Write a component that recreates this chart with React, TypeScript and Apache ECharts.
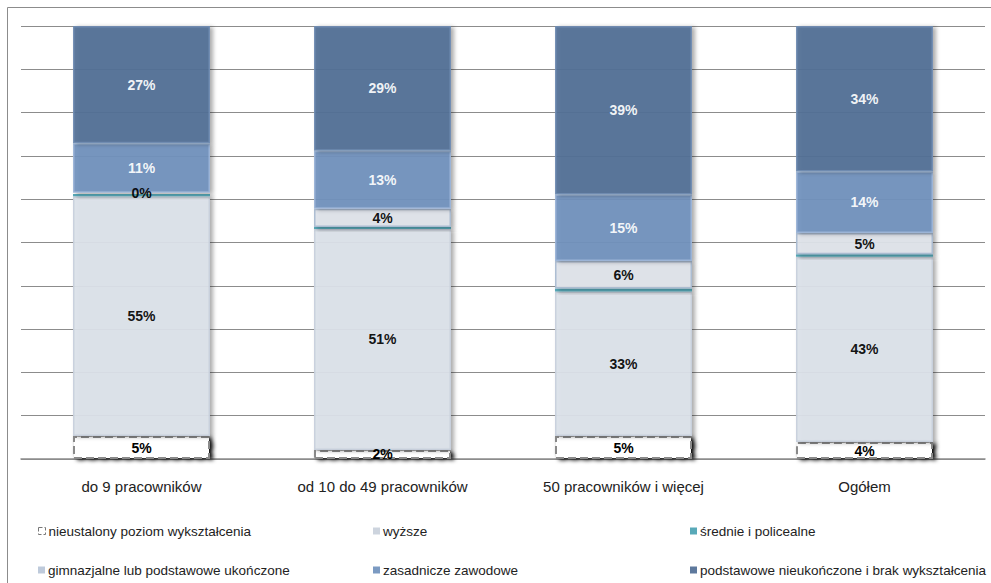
import React, { useEffect, useRef } from "react";
import * as echarts from "echarts";

const categories = ["do 9 pracowników", "od 10 do 49 pracowników", "50 pracowników i więcej", "Ogółem"];
const seriesNames = [
  "nieustalony poziom wykształcenia",
  "wyższe",
  "średnie i policealne",
  "gimnazjalne lub podstawowe ukończone",
  "zasadnicze zawodowe",
  "podstawowe nieukończone i brak wykształcenia",
];
const nieustalony = [5.3, 2.1, 5.3, 3.9];
const wyzsze = [55.4, 51.0, 33.4, 42.8];
const srednie = [0.5, 0.5, 0.7, 0.6];
const gimnazjalne = [0.3, 4.2, 6.3, 4.9];
const zasadnicze = [11.4, 13.4, 15.4, 14.2];
const podstawowe = [27.1, 28.8, 38.9, 33.6];
const yTicks = [0, 10, 20, 30, 40, 50, 60, 70, 80, 90, 100];

const FONT = "'Liberation Sans', 'Open Sans', sans-serif";

export default function App() {
  const ref = useRef<HTMLDivElement>(null);
  useEffect(() => {
    if (!ref.current) return;
    const chart = echarts.init(ref.current, null, { renderer: "svg" });
    const values = [nieustalony, wyzsze, srednie, gimnazjalne, zasadnicze, podstawowe];
    const colors = ["#ffffff", "#dbe2ea", "#4ba3b3", "#dfe3ea", "#7192bd", "#526f96"];
    const labelColors = ["#000", "#000", "#000", "#000", "#fff", "#fff"];
    const borders = ["#8a8a8a", "#c7d0dc", "#4ba3b3", "#a9bad0", "#9bb4d6", "#6f8cb2"];
    const series = values.map((v, i) => ({
      name: seriesNames[i],
      type: "bar",
      stack: "total",
      barWidth: 137,
      data: v,
      itemStyle: {
        color: colors[i],
        opacity: i === 0 ? 1 : 0.93,
        borderColor: borders[i],
        borderWidth: i === 0 ? 2 : i === 2 ? 0 : 1.5,
        borderType: i === 0 ? "dashed" : "solid",
        shadowColor: i === 0 ? "transparent" : "rgba(0,0,0,0.35)",
        shadowBlur: 4,
        shadowOffsetX: 3,
        shadowOffsetY: 1,
      },
      label: {
        show: i !== 2,
        position: "inside",
        formatter: (p: any) => Math.round(p.value) + "%",
        color: labelColors[i],
        fontFamily: FONT,
        fontWeight: "bold",
        fontSize: 14,
      },
    }));
    const legendPos = [
      { left: 33, top: 519 },
      { left: 368, top: 519 },
      { left: 685, top: 519 },
      { left: 33, top: 558 },
      { left: 368, top: 558 },
      { left: 685, top: 558 },
    ];
    const legend = seriesNames.map((n, i) => ({
      data: [{ name: n, icon: "rect" }],
      left: legendPos[i].left,
      top: legendPos[i].top,
      itemWidth: 7,
      itemHeight: 7,
      itemGap: 4,
      selectedMode: false,
      textStyle: { fontFamily: FONT, fontSize: 13.5, color: "#222", padding: [0, 0, 0, -2] },
      itemStyle:
        i === 0
          ? { color: "#fff", borderColor: "#777", borderWidth: 1, borderType: "dashed" }
          : { color: i === 1 ? "#c9d1dc" : i === 3 ? "#b9c6d8" : colors[i], borderWidth: 0 },
    }));
    chart.setOption({
      animation: false,
      backgroundColor: "#fff",
      grid: { left: 21, right: 6, top: 26, bottom: 124, containLabel: false },
      legend,
      xAxis: {
        type: "category",
        data: categories,
        axisLine: { lineStyle: { color: "#8c8c8c", width: 1.5 } },
        axisTick: { show: false },
        axisLabel: { color: "#222", fontFamily: FONT, fontSize: 15, margin: 20 },
      },
      yAxis: {
        type: "value",
        min: yTicks[0],
        max: yTicks[yTicks.length - 1],
        interval: 10,
        axisLabel: { show: false },
        axisLine: { show: false },
        axisTick: { show: false },
        splitLine: { lineStyle: { color: "#8c8c8c", width: 1 } },
      },
      graphic: [
        {
          type: "rect",
          shape: { x: 7.5, y: 7.5, width: 1000, height: 600 },
          style: { fill: "none", stroke: "#8c8c8c", lineWidth: 1 },
          silent: true,
        },
      ],
      series,
    });
    return () => chart.dispose();
  }, []);
  return <div ref={ref} style={{ width: 991, height: 583, position: "absolute", left: 0, top: 0 }} />;
}
